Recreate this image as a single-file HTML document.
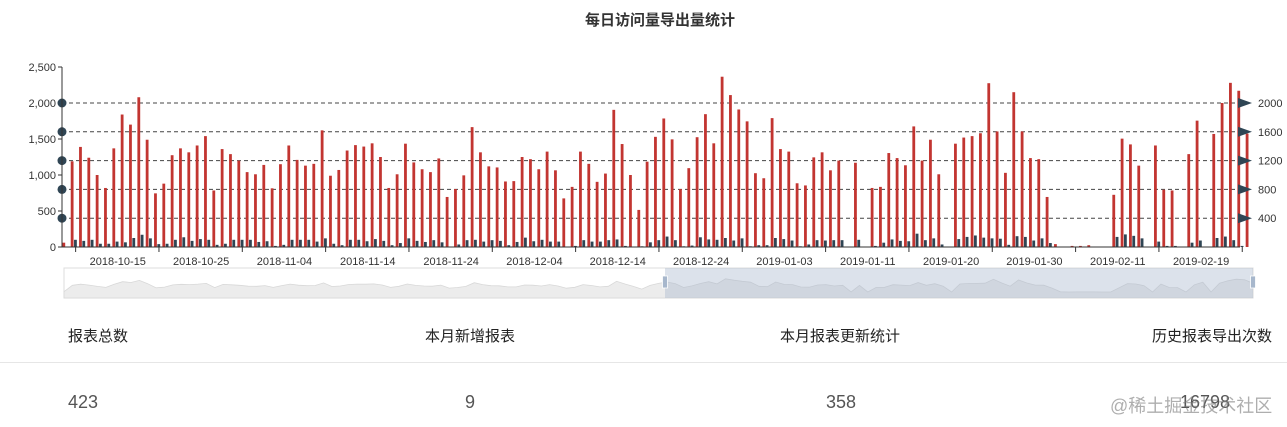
<!DOCTYPE html>
<html><head><meta charset="utf-8">
<style>
body{margin:0;width:1287px;height:427px;background:#fff;overflow:hidden;font-family:"Liberation Sans","Noto Sans CJK SC",sans-serif;position:relative}
.lab{position:absolute;font-size:15px;color:#222;top:325px}
.val{position:absolute;font-size:18px;color:#555;top:392px}
</style></head><body>
<svg id="chart" width="1287" height="310" style="position:absolute;left:0;top:0" font-family="Liberation Sans, Noto Sans CJK SC, sans-serif"></svg>
<div class="lab" style="left:68px">报表总数</div>
<div class="lab" style="left:425px">本月新增报表</div>
<div class="lab" style="left:780px">本月报表更新统计</div>
<div class="lab" style="left:1152px">历史报表导出次数</div>
<div style="position:absolute;left:0;top:362px;width:1287px;height:1px;background:#e6e6e6"></div>
<div class="val" style="left:68px">423</div>
<div class="val" style="left:465px">9</div>
<div class="val" style="left:826px">358</div>
<div class="val" style="left:1180px">16798</div>
<div style="position:absolute;left:1110px;top:392px;font-size:18px;color:rgba(120,120,120,0.6)">@稀土掘金技术社区</div>
<script>
const visits=[60,1190,1390,1240,1000,820,1370,1840,1700,2080,
1490,745,880,1275,1370,1315,1410,1540,785,1360,
1290,1200,1040,1010,1140,815,1150,1410,1210,1130,
1155,1620,990,1070,1340,1415,1395,1440,1250,820,
1010,1435,1175,1080,1040,1230,695,805,995,1665,
1315,1120,1105,910,915,1250,1220,1080,1325,1065,
675,835,1325,1155,905,1020,1905,1430,1000,515,
1185,1530,1785,1495,805,1095,1525,1845,1440,2365,
2110,1910,1745,1025,955,1790,1360,1325,885,855,
1245,1315,1065,1200,0,1170,0,820,835,1305,
1235,1135,1675,1200,1490,1010,0,1435,1520,1540,
1580,2275,1605,1030,2150,1605,1235,1220,695,40,
5,15,15,25,0,5,725,1505,1425,1130,
0,1410,795,785,0,1290,1755,0,1570,2000,
2280,2170,1575];
const exportsArr=[0,100,85,100,45,45,75,65,125,170,
120,40,45,100,135,85,110,100,30,45,
100,100,100,70,80,15,30,100,100,100,
75,120,45,25,100,100,80,110,85,25,
55,120,85,70,95,65,0,35,95,100,
75,95,85,25,70,130,80,100,75,75,
5,15,95,75,75,95,105,15,5,10,
65,95,145,95,10,20,135,105,100,125,
90,120,10,25,25,125,110,90,10,35,
95,90,95,95,0,100,0,15,60,105,
85,80,185,95,120,35,0,110,140,160,
130,120,115,30,150,140,90,120,55,5,
0,0,0,0,0,0,140,175,155,120,
0,75,15,15,0,60,90,0,125,145,
95,15,0];
const leftTicks=[0,500,1000,1500,2000,2500];
const markLines=[400,800,1200,1600,2000];
const dateLabels=["2018-10-15","2018-10-25","2018-11-04","2018-11-14","2018-11-24","2018-12-04","2018-12-14","2018-12-24","2019-01-03","2019-01-11","2019-01-20","2019-01-30","2019-02-11","2019-02-19"];

const NS="http://www.w3.org/2000/svg";
const svg=document.getElementById('chart');
const X0=62,X1=1240,Y0=247,YT=67,band=8.333;
const y=v=>Y0-(v/2500)*(Y0-YT);
const xc=i=>65.3+band*i;
function mk(t,a,txt){const e=document.createElementNS(NS,t);for(const k in a)e.setAttribute(k,a[k]);if(txt!==undefined)e.textContent=txt;svg.appendChild(e);return e;}

let t=mk('text',{x:660,y:25,'text-anchor':'middle','font-size':15,'font-weight':'bold',fill:'#333'},'每日访问量导出量统计');



leftTicks.forEach(v=>{
  let l=mk('line',{x1:X0-4,x2:X0,y1:y(v),y2:y(v),stroke:'#333'});
  
  
  let tx=mk('text',{x:X0-6,y:y(v)+4,'text-anchor':'end','font-size':11,fill:'#333'},v.toLocaleString('en-US'));
  
  
});
markLines.forEach(v=>{
  let l=mk('line',{x1:X0,x2:X1,y1:y(v),y2:y(v),stroke:'#444','stroke-dasharray':'4,3'});
  
  
});
visits.forEach((v,i)=>{
  let r=mk('rect',{x:xc(i)-2.9,y:y(v),width:2.8,height:Y0-y(v),fill:'#c23531'});
  
  
});
exportsArr.forEach((v,i)=>{
  let r=mk('rect',{x:xc(i)+0.4,y:y(v),width:2.8,height:Y0-y(v),fill:'#2f4554'});
  
  
});
markLines.forEach(v=>{
  let c=mk('circle',{cx:X0,cy:y(v),r:4.5,fill:'#2f4554'});
  
  
  let p=mk('path',{d:`M${X1-2},${y(v)-5}L${X1+12},${y(v)}L${X1-2},${y(v)+5}Z`,fill:'#2f4554'});
  
  
  let tx=mk('text',{x:X1+18,y:y(v)+4,'font-size':11,fill:'#333'},String(v));
  
  
});
let ya=mk('line',{x1:X0,x2:X0,y1:YT,y2:Y0,stroke:'#333'});


let xa=mk('line',{x1:X0,x2:X1,y1:Y0,y2:Y0,stroke:'#333'});


for(let j=0;j<=dateLabels.length;j++){
  let tx=xc(1.3+10*j)-0.5;
  let l=mk('line',{x1:tx,x2:tx,y1:Y0,y2:Y0+5,stroke:'#333'});
  
  
}
dateLabels.forEach((d,j)=>{
  let tx=mk('text',{x:xc(6.3+10*j),y:265,'text-anchor':'middle','font-size':11,fill:'#333'},d);
  
  
});
// data zoom slider
const SX0=64,SX1=1253,SY0=268,SY1=298,SEL=665;
let bg=mk('rect',{x:SX0,y:SY0,width:SX1-SX0,height:SY1-SY0,fill:'none',stroke:'#ddd'});


let sx=i=>SX0+(SX1-SX0)*i/(visits.length-1);
let sy=v=>SY1-6-(v/2500)*14;
let d=`M${SX0},${SY1}`;visits.forEach((v,i)=>{d+=`L${sx(i).toFixed(1)},${sy(v).toFixed(1)}`});d+=`L${SX1},${SY1}Z`;
let ar=mk('path',{d:d,fill:'#ececec',stroke:'#d8d8d8','stroke-width':0.8});


let selr=mk('rect',{x:SEL,y:SY0,width:SX1-SEL,height:SY1-SY0,fill:'rgba(167,183,204,0.4)'});


[SEL,SX1].forEach(hx=>{
  let h=mk('rect',{x:hx-2.5,y:SY0+8,width:5,height:12,fill:'#a7b7cc',stroke:'#fff','stroke-width':0.8});
  
  
});
</script>
</body></html>
